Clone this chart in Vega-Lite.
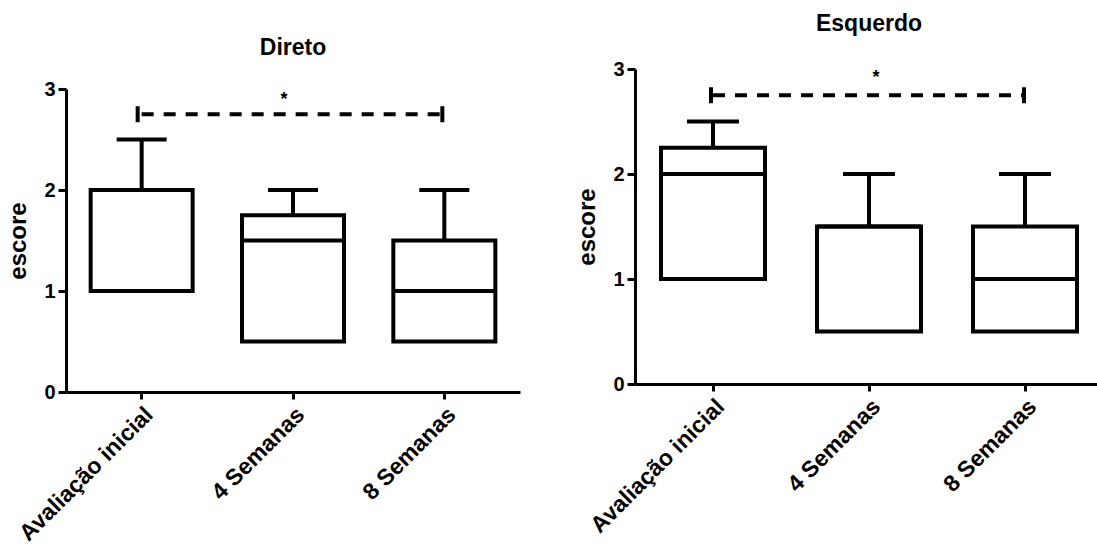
{
  "$schema": "https://vega.github.io/schema/vega-lite/v6.json",
  "padding": {"left": 6, "right": 0, "top": 13, "bottom": 0},
  "background": "white",
  "spacing": 55,
  "config": {
    "view": {"stroke": null},
    "font": "Liberation Sans",
    "axis": {"domainColor": "black", "domainWidth": 3, "tickColor": "black", "tickWidth": 3, "labelFont": "Liberation Sans", "labelFontWeight": "bold", "labelColor": "black", "titleFont": "Liberation Sans", "titleFontWeight": "bold", "titleColor": "black", "grid": false},
    "axisX": {"labelAngle": -45, "labelFontSize": 23, "tickSize": 7, "labelPadding": 4, "title": null},
    "axisY": {"labelFontSize": 20, "tickSize": 8, "labelPadding": 3, "titleFontSize": 24, "titlePadding": 13},
    "title": {"font": "Liberation Sans", "fontSize": 23, "fontWeight": "bold", "color": "black"}
  },
  "datasets": {
    "boxes": [
      {"painel": "Direto", "grupo": "Avaliação inicial", "min": 1, "q1": 1, "mediana": 2, "q3": 2, "max": 2.5},
      {"painel": "Direto", "grupo": "4 Semanas", "min": 0.5, "q1": 0.5, "mediana": 1.5, "q3": 1.75, "max": 2},
      {"painel": "Direto", "grupo": "8 Semanas", "min": 0.5, "q1": 0.5, "mediana": 1, "q3": 1.5, "max": 2},
      {"painel": "Esquerdo", "grupo": "Avaliação inicial", "min": 1, "q1": 1, "mediana": 2, "q3": 2.25, "max": 2.5},
      {"painel": "Esquerdo", "grupo": "4 Semanas", "min": 0.5, "q1": 0.5, "mediana": 1.5, "q3": 1.5, "max": 2},
      {"painel": "Esquerdo", "grupo": "8 Semanas", "min": 0.5, "q1": 0.5, "mediana": 1, "q3": 1.5, "max": 2}
    ],
    "sig": [
      {"painel": "Direto", "grupo": "Avaliação inicial", "grupo2": "8 Semanas", "meio": "4 Semanas", "y": 2.75, "ystar": 2.89, "label": "*"},
      {"painel": "Esquerdo", "grupo": "Avaliação inicial", "grupo2": "8 Semanas", "meio": "4 Semanas", "y": 2.75, "ystar": 2.91, "label": "*"}
    ]
  },
  "hconcat": [
    {
      "width": 454,
      "height": 323,
      "title": {"text": "Direto", "offset": 9},
      "layer": [
        {
          "data": {"name": "boxes"},
          "transform": [{"filter": "datum.painel == 'Direto'"}],
          "mark": {"type": "rule", "color": "black", "strokeWidth": 4},
          "encoding": {
            "x": {"field": "grupo", "type": "nominal", "scale": {"domain": ["Avaliação inicial", "4 Semanas", "8 Semanas"], "paddingInner": 0, "paddingOuter": 0}},
            "y": {"field": "min", "type": "quantitative", "scale": {"domain": [0, 3], "nice": false, "range": [323, 20]}, "axis": {"values": [0, 1, 2, 3], "format": "d", "title": "escore"}},
            "y2": {"field": "max"}
          }
        },
        {
          "data": {"name": "boxes"},
          "transform": [{"filter": "datum.painel == 'Direto'"}],
          "mark": {"type": "tick", "color": "black", "opacity": 1, "size": 50, "thickness": 4},
          "encoding": {"x": {"field": "grupo", "type": "nominal"}, "y": {"field": "max", "type": "quantitative"}}
        },
        {
          "data": {"name": "boxes"},
          "transform": [{"filter": "datum.painel == 'Direto'"}],
          "mark": {"type": "bar", "fill": "white", "stroke": "black", "strokeWidth": 4, "size": 102},
          "encoding": {"x": {"field": "grupo", "type": "nominal"}, "y": {"field": "q1", "type": "quantitative"}, "y2": {"field": "q3"}}
        },
        {
          "data": {"name": "boxes"},
          "transform": [{"filter": "datum.painel == 'Direto'"}],
          "mark": {"type": "tick", "color": "black", "opacity": 1, "size": 102, "thickness": 4},
          "encoding": {"x": {"field": "grupo", "type": "nominal"}, "y": {"field": "mediana", "type": "quantitative"}}
        },
        {
          "data": {"name": "sig"},
          "transform": [{"filter": "datum.painel == 'Direto'"}],
          "mark": {"type": "rule", "color": "black", "strokeWidth": 4, "strokeDash": [12, 10]},
          "encoding": {"x": {"field": "grupo", "type": "nominal"}, "x2": {"field": "grupo2"}, "y": {"field": "y", "type": "quantitative"}}
        },
        {
          "data": {"name": "sig"},
          "transform": [{"filter": "datum.painel == 'Direto'"}],
          "mark": {"type": "tick", "color": "black", "opacity": 1, "orient": "vertical", "size": 16, "thickness": 4, "xOffset": -4},
          "encoding": {"x": {"field": "grupo", "type": "nominal"}, "y": {"field": "y", "type": "quantitative"}}
        },
        {
          "data": {"name": "sig"},
          "transform": [{"filter": "datum.painel == 'Direto'"}],
          "mark": {"type": "tick", "color": "black", "opacity": 1, "orient": "vertical", "size": 16, "thickness": 4, "xOffset": -2},
          "encoding": {"x": {"field": "grupo2", "type": "nominal"}, "y": {"field": "y", "type": "quantitative"}}
        },
        {
          "data": {"name": "sig"},
          "transform": [{"filter": "datum.painel == 'Direto'"}],
          "mark": {"type": "text", "color": "black", "fontSize": 18, "fontWeight": "bold", "baseline": "middle", "dx": -9},
          "encoding": {"x": {"field": "meio", "type": "nominal"}, "y": {"field": "ystar", "type": "quantitative"}, "text": {"field": "label"}}
        }
      ]
    },
    {
      "width": 468,
      "height": 315,
      "title": {"text": "Esquerdo", "offset": 23},
      "layer": [
        {
          "data": {"name": "boxes"},
          "transform": [{"filter": "datum.painel == 'Esquerdo'"}],
          "mark": {"type": "rule", "color": "black", "strokeWidth": 4},
          "encoding": {
            "x": {"field": "grupo", "type": "nominal", "scale": {"domain": ["Avaliação inicial", "4 Semanas", "8 Semanas"], "paddingInner": 0, "paddingOuter": 0}},
            "y": {"field": "min", "type": "quantitative", "scale": {"domain": [0, 3], "nice": false}, "axis": {"values": [0, 1, 2, 3], "format": "d", "title": "escore"}},
            "y2": {"field": "max"}
          }
        },
        {
          "data": {"name": "boxes"},
          "transform": [{"filter": "datum.painel == 'Esquerdo'"}],
          "mark": {"type": "tick", "color": "black", "opacity": 1, "size": 52, "thickness": 4},
          "encoding": {"x": {"field": "grupo", "type": "nominal"}, "y": {"field": "max", "type": "quantitative"}}
        },
        {
          "data": {"name": "boxes"},
          "transform": [{"filter": "datum.painel == 'Esquerdo'"}],
          "mark": {"type": "bar", "fill": "white", "stroke": "black", "strokeWidth": 4, "size": 104},
          "encoding": {"x": {"field": "grupo", "type": "nominal"}, "y": {"field": "q1", "type": "quantitative"}, "y2": {"field": "q3"}}
        },
        {
          "data": {"name": "boxes"},
          "transform": [{"filter": "datum.painel == 'Esquerdo'"}],
          "mark": {"type": "tick", "color": "black", "opacity": 1, "size": 104, "thickness": 4},
          "encoding": {"x": {"field": "grupo", "type": "nominal"}, "y": {"field": "mediana", "type": "quantitative"}}
        },
        {
          "data": {"name": "sig"},
          "transform": [{"filter": "datum.painel == 'Esquerdo'"}],
          "mark": {"type": "rule", "color": "black", "strokeWidth": 4, "strokeDash": [12, 10]},
          "encoding": {"x": {"field": "grupo", "type": "nominal"}, "x2": {"field": "grupo2"}, "y": {"field": "y", "type": "quantitative"}}
        },
        {
          "data": {"name": "sig"},
          "transform": [{"filter": "datum.painel == 'Esquerdo'"}],
          "mark": {"type": "tick", "color": "black", "opacity": 1, "orient": "vertical", "size": 16, "thickness": 4, "xOffset": -2},
          "encoding": {"x": {"field": "grupo", "type": "nominal"}, "y": {"field": "y", "type": "quantitative"}}
        },
        {
          "data": {"name": "sig"},
          "transform": [{"filter": "datum.painel == 'Esquerdo'"}],
          "mark": {"type": "tick", "color": "black", "opacity": 1, "orient": "vertical", "size": 16, "thickness": 4, "xOffset": -1},
          "encoding": {"x": {"field": "grupo2", "type": "nominal"}, "y": {"field": "y", "type": "quantitative"}}
        },
        {
          "data": {"name": "sig"},
          "transform": [{"filter": "datum.painel == 'Esquerdo'"}],
          "mark": {"type": "text", "color": "black", "fontSize": 18, "fontWeight": "bold", "baseline": "middle", "dx": 7},
          "encoding": {"x": {"field": "meio", "type": "nominal"}, "y": {"field": "ystar", "type": "quantitative"}, "text": {"field": "label"}}
        }
      ]
    }
  ]
}
